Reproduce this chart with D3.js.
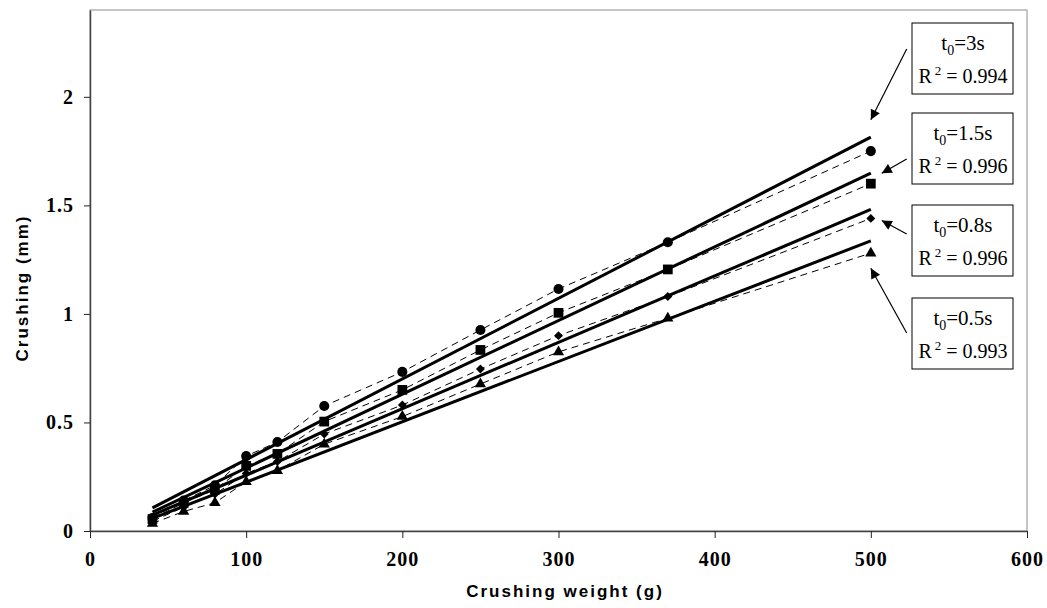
<!DOCTYPE html>
<html>
<head>
<meta charset="utf-8">
<script src="https://cdn.jsdelivr.net/npm/d3@7"></script>
<style>
  body { margin: 0; background: #fff; }
  svg { display: block; }
</style>
</head>
<body>
<div class="chart"></div>
<script>
// crushing weight (g)
var weights = [40, 60, 80, 100, 120, 150, 200, 250, 300, 370, 500];
// crushing (mm) for each holding time
var crush3s   = [0.06, 0.14, 0.21, 0.345, 0.41, 0.576, 0.733, 0.926, 1.115, 1.33, 1.75];
var crush15s  = [0.055, 0.13, 0.19, 0.30, 0.355, 0.504, 0.65, 0.834, 1.005, 1.205, 1.60];
var crush08s  = [0.045, 0.11, 0.17, 0.265, 0.32, 0.447, 0.58, 0.746, 0.90, 1.08, 1.44];
var crush05s  = [0.035, 0.09, 0.13, 0.227, 0.278, 0.40, 0.527, 0.677, 0.825, 0.98, 1.28];
var timeLabels = ["3s", "1.5s", "0.8s", "0.5s"];
var r2Labels = ["0.994", "0.996", "0.996", "0.993"];
// where each callout arrow points (data units)
var arrowTips = [[500, 1.894], [507, 1.648], [507, 1.43], [500, 1.21]];
var xTicks = [0, 100, 200, 300, 400, 500, 600];
var yTicks = [0, 0.5, 1, 1.5, 2];

(function() {
  var width = 1047, height = 608;
  var pLeft = 90, pRight = 1027, pTop = 10, pBottom = 531;

  var svg = d3.select(".chart").append("svg").attr("width", width).attr("height", height);

  var x = d3.scaleLinear().domain([0, 600]).range([pLeft, pRight]);
  var y = d3.scaleLinear().domain([0, 2.4]).range([pBottom, pTop]);

  var series = [
    {vals: crush3s,  sym: d3.symbolCircle,   size: 80,  rot: 0},
    {vals: crush15s, sym: d3.symbolSquare,   size: 95,  rot: 0},
    {vals: crush08s, sym: d3.symbolSquare,   size: 40,  rot: 45},
    {vals: crush05s, sym: d3.symbolTriangle, size: 55,  rot: 0}
  ];

  // least squares trendline like excel
  function fit(xs, ys) {
    var mx = d3.mean(xs), my = d3.mean(ys), sxy = 0, sxx = 0;
    xs.forEach(function(v, i) { sxy += (v - mx) * (ys[i] - my); sxx += (v - mx) * (v - mx); });
    var b = sxy / sxx;
    return {b: b, a: my - b * mx};
  }

  // plot frame
  svg.append("rect").attr("x", pLeft).attr("y", pTop).attr("width", pRight - pLeft).attr("height", pBottom - pTop)
    .style("fill", "none").style("stroke", "#a0a0a0").style("stroke-width", 1.2);

  // axes
  var xAxis = svg.append("g").attr("transform", "translate(0," + pBottom + ")")
    .call(d3.axisBottom(x).tickValues(xTicks).tickSize(7).tickPadding(14).tickSizeOuter(0));
  var yAxis = svg.append("g").attr("transform", "translate(" + pLeft + ",0)")
    .call(d3.axisLeft(y).tickValues(yTicks).tickSize(6).tickPadding(10).tickSizeOuter(0).tickFormat(d3.format("")));
  [xAxis, yAxis].forEach(function(g) {
    g.select(".domain").style("stroke", "#444").style("stroke-width", 1.5);
    g.selectAll(".tick line").style("stroke", "#222").style("stroke-width", 1);
    g.selectAll("text").style("font-family", "'Liberation Serif', 'Times New Roman', serif")
      .style("font-weight", "bold").style("font-size", "20px").style("letter-spacing", "1px").style("fill", "#000");
  });
  xAxis.selectAll("text").attr("dy", "0.71em");

  // axis titles
  svg.append("text").attr("x", 565).attr("y", 597).attr("text-anchor", "middle")
    .style("font-family", "'Liberation Sans', Arial, sans-serif").style("font-weight", "bold")
    .style("font-size", "17px").style("letter-spacing", "2px").text("Crushing weight (g)");
  svg.append("text").attr("transform", "translate(28,288) rotate(-90)").attr("text-anchor", "middle")
    .style("font-family", "'Liberation Sans', Arial, sans-serif").style("font-weight", "bold")
    .style("font-size", "17px").style("letter-spacing", "2px").text("Crushing (mm)");

  // dashed lines through the measurements
  var line = d3.line().x(function(d) { return x(d[0]); }).y(function(d) { return y(d[1]); });
  series.forEach(function(s) {
    var pts = weights.map(function(w, i) { return [w, s.vals[i]]; });
    svg.append("path").attr("d", line(pts)).style("fill", "none").style("stroke", "#000")
      .style("stroke-width", 1).style("stroke-dasharray", "7,5");
  });

  // trendlines
  series.forEach(function(s) {
    var f = fit(weights, s.vals);
    var x0 = d3.min(weights), x1 = d3.max(weights);
    svg.append("line").attr("x1", x(x0)).attr("y1", y(f.a + f.b * x0))
      .attr("x2", x(x1)).attr("y2", y(f.a + f.b * x1))
      .style("stroke", "#000").style("stroke-width", 3);
  });

  // markers
  series.forEach(function(s) {
    svg.append("g").selectAll("path").data(weights).enter().append("path")
      .attr("d", d3.symbol().type(s.sym).size(s.size))
      .attr("transform", function(w, i) { return "translate(" + x(w) + "," + y(s.vals[i]) + ") rotate(" + s.rot + ")"; })
      .style("fill", "#000");
  });

  // callout boxes
  var defs = svg.append("defs");
  defs.append("marker").attr("id", "arr").attr("viewBox", "0 0 10 10").attr("refX", 10).attr("refY", 5)
    .attr("markerWidth", 13).attr("markerHeight", 10).attr("markerUnits", "userSpaceOnUse").attr("orient", "auto")
    .append("path").attr("d", "M0,0 L10,5 L0,10 Z").style("fill", "#000");

  var boxTops = [23, 113, 205, 298];
  var arrowStarts = [[906.7, 49], [906.7, 159], [906.7, 234], [906.7, 333]];
  timeLabels.forEach(function(t, i) {
    var bt = boxTops[i];
    svg.append("rect").attr("x", 912).attr("y", bt).attr("width", 101).attr("height", 71)
      .style("fill", "#fff").style("stroke", "#000").style("stroke-width", 1);
    var t1 = svg.append("text").attr("x", 963).attr("y", bt + 27).attr("text-anchor", "middle")
      .style("font-family", "'Liberation Serif', 'Times New Roman', serif").style("font-size", "21px");
    t1.append("tspan").text("t");
    t1.append("tspan").attr("dy", 5).style("font-size", "14px").text("0");
    t1.append("tspan").attr("dy", -5).text("=" + t);
    var t2 = svg.append("text").attr("x", 963).attr("y", bt + 60).attr("text-anchor", "middle")
      .style("font-family", "'Liberation Serif', 'Times New Roman', serif").style("font-size", "20px");
    t2.append("tspan").text("R");
    t2.append("tspan").attr("dx", 3).attr("dy", -8).style("font-size", "13px").text("2");
    t2.append("tspan").attr("dy", 8).text(" = " + r2Labels[i]);

    svg.append("line").attr("x1", arrowStarts[i][0]).attr("y1", arrowStarts[i][1])
      .attr("x2", x(arrowTips[i][0])).attr("y2", y(arrowTips[i][1]))
      .style("stroke", "#000").style("stroke-width", 1.2).attr("marker-end", "url(#arr)");
  });
})();
</script>
</body>
</html>
